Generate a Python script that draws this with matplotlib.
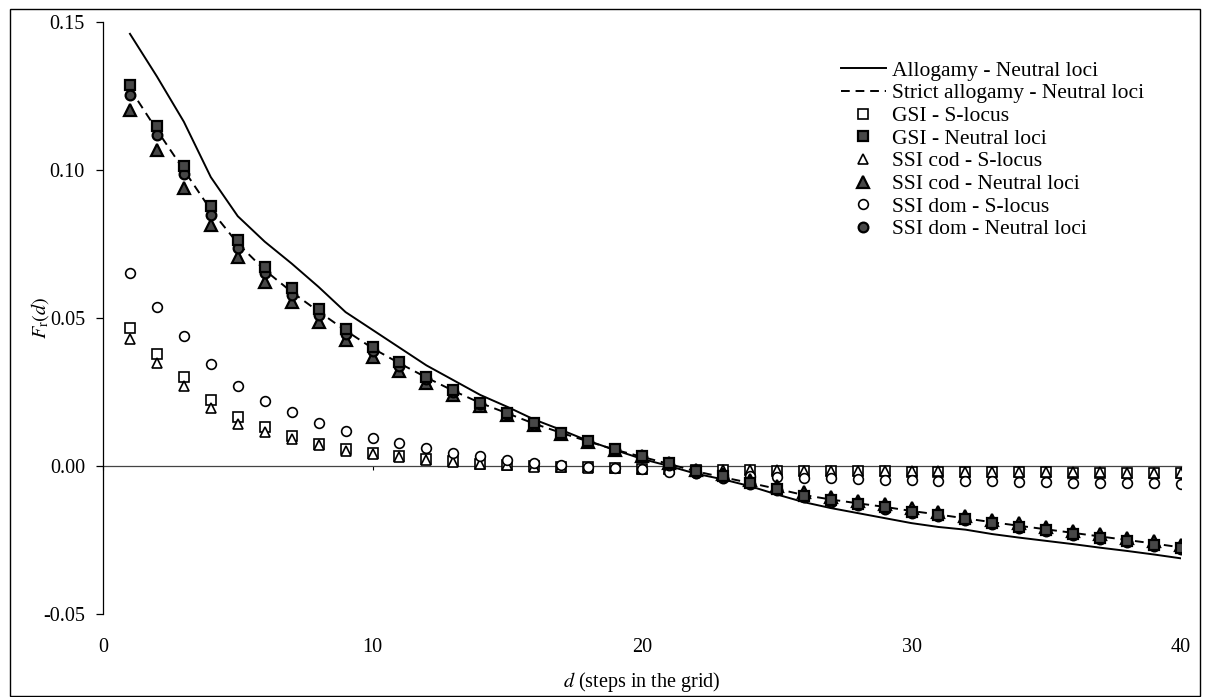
import matplotlib
matplotlib.use('Agg')
import matplotlib.pyplot as plt
from matplotlib.patches import Rectangle
from matplotlib.lines import Line2D

plt.rcParams['font.family'] = ['Liberation Serif', 'DejaVu Serif']
plt.rcParams['mathtext.fontset'] = 'stix'

# --- data ---
d = list(range(1, 41))

allogamy = [0.1460, 0.1316, 0.1163, 0.0976, 0.0844, 0.0758, 0.0684, 0.0605, 0.0520, 0.0460,
            0.0400, 0.0340, 0.0290, 0.0240, 0.0200, 0.0157, 0.0122, 0.0085, 0.0054, 0.0024,
            0.0000, -0.0026, -0.0045, -0.0068, -0.0096, -0.0122, -0.0142, -0.0159, -0.0176, -0.0193,
            -0.0206, -0.0215, -0.0230, -0.0242, -0.0253, -0.0264, -0.0276, -0.0287, -0.0299, -0.0312]

strict_allogamy = [0.1275, 0.1135, 0.1000, 0.0865, 0.0752, 0.0662, 0.0588, 0.0522, 0.0458, 0.0398,
                   0.0347, 0.0299, 0.0254, 0.0213, 0.0178, 0.0143, 0.0112, 0.0083, 0.0055, 0.0031,
                   0.0007, -0.0018, -0.0038, -0.0057, -0.0077, -0.0098, -0.0113, -0.0126, -0.0138, -0.0152,
                   -0.0164, -0.0177, -0.0190, -0.0202, -0.0214, -0.0226, -0.0238, -0.0250, -0.0262, -0.0275]

gsi_slocus = [0.0467, 0.0379, 0.0300, 0.0223, 0.0167, 0.0132, 0.0103, 0.0075, 0.0057, 0.0043,
              0.0033, 0.0025, 0.0016, 0.0008, 0.0004, 0.0000, -0.0003, -0.0005, -0.0007, -0.0009,
              -0.0011, -0.0013, -0.0014, -0.0015, -0.0016, -0.0017, -0.0017, -0.0018, -0.0018, -0.0019,
              -0.0019, -0.0020, -0.0020, -0.0021, -0.0021, -0.0022, -0.0022, -0.0023, -0.0023, -0.0024]

gsi_neutral = [0.1286, 0.1150, 0.1014, 0.0878, 0.0762, 0.0673, 0.0600, 0.0532, 0.0464, 0.0401,
               0.0350, 0.0302, 0.0256, 0.0214, 0.0180, 0.0144, 0.0112, 0.0084, 0.0056, 0.0034,
               0.0010, -0.0018, -0.0034, -0.0057, -0.0077, -0.0100, -0.0116, -0.0127, -0.0140, -0.0154,
               -0.0165, -0.0178, -0.0192, -0.0205, -0.0217, -0.0230, -0.0242, -0.0254, -0.0266, -0.0278]

ssi_cod_slocus = [0.0430, 0.0347, 0.0269, 0.0197, 0.0143, 0.0115, 0.0090, 0.0070, 0.0052, 0.0039,
                  0.0030, 0.0021, 0.0013, 0.0006, 0.0002, -0.0002, -0.0004, -0.0006, -0.0008, -0.0010,
                  -0.0011, -0.0012, -0.0013, -0.0014, -0.0015, -0.0016, -0.0016, -0.0017, -0.0017, -0.0018,
                  -0.0018, -0.0019, -0.0019, -0.0020, -0.0020, -0.0021, -0.0021, -0.0022, -0.0022, -0.0023]

ssi_cod_neutral = [0.1203, 0.1068, 0.0940, 0.0815, 0.0707, 0.0622, 0.0554, 0.0486, 0.0424, 0.0367,
                   0.0322, 0.0282, 0.0240, 0.0202, 0.0172, 0.0138, 0.0108, 0.0082, 0.0055, 0.0033,
                   0.0010, -0.0012, -0.0028, -0.0047, -0.0067, -0.0089, -0.0105, -0.0117, -0.0129, -0.0143,
                   -0.0155, -0.0168, -0.0181, -0.0194, -0.0206, -0.0219, -0.0231, -0.0243, -0.0255, -0.0267]

ssi_dom_slocus = [0.0653, 0.0537, 0.0438, 0.0343, 0.0271, 0.0220, 0.0184, 0.0146, 0.0119, 0.0095,
                  0.0078, 0.0061, 0.0044, 0.0033, 0.0021, 0.0010, 0.0005, -0.0003, -0.0007, -0.0009,
                  -0.0020, -0.0025, -0.0030, -0.0034, -0.0037, -0.0040, -0.0042, -0.0044, -0.0046, -0.0048,
                  -0.0050, -0.0051, -0.0052, -0.0054, -0.0055, -0.0056, -0.0057, -0.0058, -0.0059, -0.0060]

ssi_dom_neutral = [0.1255, 0.1119, 0.0985, 0.0849, 0.0736, 0.0651, 0.0577, 0.0510, 0.0447, 0.0388,
                   0.0339, 0.0293, 0.0249, 0.0209, 0.0175, 0.0140, 0.0109, 0.0081, 0.0053, 0.0030,
                   0.0004, -0.0024, -0.0042, -0.0062, -0.0082, -0.0104, -0.0120, -0.0132, -0.0144, -0.0158,
                   -0.0170, -0.0183, -0.0196, -0.0209, -0.0221, -0.0234, -0.0246, -0.0258, -0.0270, -0.0282]

x_ticks = [0, 10, 20, 30, 40]
y_ticks = [-0.05, 0.00, 0.05, 0.10, 0.15]
y_ticklabels = ['-0.05', '0.00', '0.05', '0.10', '0.15']

fig = plt.figure(figsize=(12.08, 6.97), dpi=100)
ax = fig.add_axes([103 / 1208, 1 - 614 / 697, (1181 - 103) / 1208, (614 - 22) / 697])

dash = (0, (4.5, 3))
ax.plot(d, allogamy, color='black', lw=1.4, zorder=3)
ax.plot(d, strict_allogamy, color='black', lw=1.4, ls=dash, zorder=3)

open_kw = dict(ls='none', mfc='white', mec='black', mew=1.2, zorder=4)
fill_kw = dict(ls='none', mfc='#474747', mec='black', mew=1.6, zorder=5)
ax.plot(d, gsi_slocus, marker='s', ms=7, **open_kw)
ax.plot(d, ssi_cod_neutral, marker='^', ms=8, **fill_kw)
ax.plot(d, ssi_dom_neutral, marker='o', ms=7, **fill_kw)
ax.plot(d, gsi_neutral, marker='s', ms=7, **fill_kw)
ax.plot(d, ssi_cod_slocus, marker='^', ms=7.5, **open_kw)
ax.plot(d, ssi_dom_slocus, marker='o', ms=7, **open_kw)

# legend handles in the original order
handles = [
    Line2D([], [], color='black', lw=1.4),
    Line2D([], [], color='black', lw=1.4, ls=dash),
    Line2D([], [], marker='s', ms=7, **open_kw),
    Line2D([], [], marker='s', ms=7, **fill_kw),
    Line2D([], [], marker='^', ms=7.5, **open_kw),
    Line2D([], [], marker='^', ms=8, **fill_kw),
    Line2D([], [], marker='o', ms=7, **open_kw),
    Line2D([], [], marker='o', ms=7, **fill_kw),
]
labels = ['Allogamy - Neutral loci', 'Strict allogamy - Neutral loci', 'GSI - S-locus',
          'GSI - Neutral loci', 'SSI cod - S-locus', 'SSI cod - Neutral loci',
          'SSI dom - S-locus', 'SSI dom - Neutral loci']
ax.legend(handles, labels, loc='upper left', bbox_to_anchor=(830 / 1208, 1 - 50 / 697),
          bbox_transform=fig.transFigure, frameon=False, fontsize=15.5, borderpad=0,
          handlelength=2.1, handletextpad=0.3, labelspacing=0.12)

ax.set_xlim(0, 40)
ax.set_ylim(-0.05, 0.15)
for s in ['top', 'right', 'bottom']:
    ax.spines[s].set_visible(False)
ax.spines['left'].set_linewidth(0.9)

ax.set_yticks(y_ticks)
ax.set_yticklabels(y_ticklabels, fontsize=14.5)
ax.tick_params(axis='y', direction='out', length=5, width=0.9, pad=8)
ax.set_xticks(x_ticks)
ax.set_xticklabels([str(t) for t in x_ticks], fontsize=14.5)
ax.tick_params(axis='x', length=0, pad=17)

# zero line (category axis crossing at 0)
zero_ax = ax.secondary_xaxis(0.25)
zero_ax.set_xticks(x_ticks)
zero_ax.tick_params(axis='x', direction='out', length=3, width=0.8, labelbottom=False, labeltop=False)
zero_ax.spines['bottom'].set_linewidth(0.9)
zero_ax.spines['bottom'].set_color('#444444')

ax.set_xlabel(r'$d$ (steps in the grid)', fontsize=14.5, labelpad=10)
ax.set_ylabel(r'$F_{\mathrm{r}}(d)$', fontsize=14.5, labelpad=-6)

fig.patches.append(Rectangle((10 / 1208, 1 / 697), 1190 / 1208, 687 / 697, transform=fig.transFigure,
                             fill=False, edgecolor='black', lw=1.0))

fig.savefig('out.png', dpi=100)
